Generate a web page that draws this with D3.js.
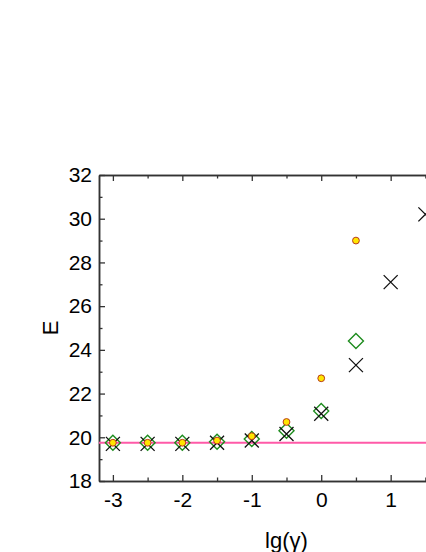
<!DOCTYPE html>
<html>
<head>
<meta charset="utf-8">
<script src="https://cdn.jsdelivr.net/npm/d3@7"></script>
<style>
body { margin: 0; overflow: hidden; background: #fff; }
svg { display: block; font-family: "Liberation Sans", Arial, sans-serif; }
</style>
</head>
<body>
<svg id="chart" width="426" height="552"></svg>
<script>
// data
const lgGamma = [-3, -2.5, -2, -1.5, -1, -0.5, 0, 0.5, 1, 1.5];
const circleE = [19.75, 19.75, 19.75, 19.85, 20.05, 20.7, 22.7, 29.0];
const diamondE = [19.75, 19.75, 19.75, 19.8, 19.92, 20.3, 21.2, 24.4];
const crossE = [19.7, 19.7, 19.7, 19.75, 19.85, 20.15, 21.08, 23.3, 27.1, 30.2];
const refLine = 19.75;
const xMajor = [-3, -2, -1, 0, 1];
const xMinor = [-2.5, -1.5, -0.5, 0.5, 1.5];
const yMajor = [18, 20, 22, 24, 26, 28, 30, 32];
const yMinor = [19, 21, 23, 25, 27, 29, 31];

const svg = d3.select("#chart");
const mLeft = 99, mTop = 175, mRight = 474, mBottom = 481;

const x = d3.scaleLinear().domain([-3.2, 2.2]).range([mLeft, mRight]);
const y = d3.scaleLinear().domain([18, 32]).range([mBottom, mTop]);

const axisCol = "#333";

function styleAxis(g) {
    g.select(".domain").attr("stroke", axisCol).attr("stroke-width", 1.5);
    g.selectAll(".tick line").attr("stroke", axisCol).attr("stroke-width", 1.3);
    g.selectAll("text").attr("fill", "#000").attr("font-size", 21).attr("font-family", "Liberation Sans, Arial, sans-serif");
}

// bottom axis
svg.append("g").attr("transform", "translate(0," + mBottom + ")")
    .call(d3.axisBottom(x).tickValues(xMajor).tickSizeInner(-6).tickSizeOuter(0).tickPadding(11)
        .tickFormat(d => String(d)))
    .call(styleAxis);
svg.append("g").attr("transform", "translate(0," + mBottom + ")")
    .call(d3.axisBottom(x).tickValues(xMinor).tickSizeInner(-3.5).tickSizeOuter(0).tickFormat(""))
    .call(styleAxis);

// top axis
svg.append("g").attr("transform", "translate(0," + mTop + ")")
    .call(d3.axisTop(x).tickValues(xMajor).tickSizeInner(-6).tickSizeOuter(0).tickFormat(""))
    .call(styleAxis);
svg.append("g").attr("transform", "translate(0," + mTop + ")")
    .call(d3.axisTop(x).tickValues(xMinor).tickSizeInner(-3.5).tickSizeOuter(0).tickFormat(""))
    .call(styleAxis);

// left axis
svg.append("g").attr("transform", "translate(" + mLeft + ",0)")
    .call(d3.axisLeft(y).tickValues(yMajor).tickSizeInner(-6).tickSizeOuter(0).tickPadding(7)
        .tickFormat(d => String(d)))
    .call(styleAxis);
svg.append("g").attr("transform", "translate(" + mLeft + ",0)")
    .call(d3.axisLeft(y).tickValues(yMinor).tickSizeInner(-3.5).tickSizeOuter(0).tickFormat(""))
    .call(styleAxis);

// right axis (mostly outside the window)
svg.append("g").attr("transform", "translate(" + mRight + ",0)")
    .call(d3.axisRight(y).tickValues(yMajor).tickSizeInner(-6).tickSizeOuter(0).tickFormat(""))
    .call(styleAxis);

// axis titles
svg.append("text").attr("x", (mLeft + mRight) / 2).attr("y", 548)
    .attr("text-anchor", "middle").attr("font-size", 22).text("lg(γ)");
svg.append("text").attr("transform", "translate(58," + (mTop + mBottom) / 2 + ") rotate(-90)")
    .attr("text-anchor", "middle").attr("font-size", 22).text("E");

// reference line
svg.append("line")
    .attr("x1", mLeft).attr("x2", mRight)
    .attr("y1", y(refLine)).attr("y2", y(refLine))
    .attr("stroke", "#ff5aa8").attr("stroke-width", 1.8);

// diamonds
svg.append("g").selectAll("path").data(diamondE).join("path")
    .attr("transform", (d, i) => "translate(" + x(lgGamma[i]) + "," + y(d) + ")")
    .attr("d", "M0,-7.5 L7.5,0 L0,7.5 L-7.5,0 Z")
    .attr("fill", "none").attr("stroke", "#1e8c1e").attr("stroke-width", 1.4);

// crosses
svg.append("g").selectAll("path").data(crossE).join("path")
    .attr("transform", (d, i) => "translate(" + x(lgGamma[i]) + "," + y(d) + ")")
    .attr("d", "M-7,-7 L7,7 M-7,7 L7,-7")
    .attr("fill", "none").attr("stroke", "#111").attr("stroke-width", 1.3);

// circles
svg.append("g").selectAll("circle").data(circleE).join("circle")
    .attr("cx", (d, i) => x(lgGamma[i])).attr("cy", d => y(d))
    .attr("r", 3.4)
    .attr("fill", "#ffe600").attr("stroke", "#b83a1c").attr("stroke-width", 1);
</script>
</body>
</html>
